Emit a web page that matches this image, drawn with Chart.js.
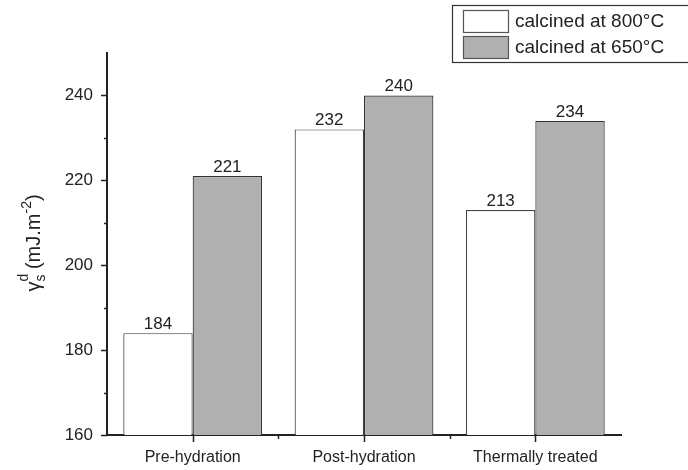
<!DOCTYPE html>
<html lang="en">
<head>
<meta charset="UTF-8">
<title>Surface energy bars</title>
<script src="https://cdn.jsdelivr.net/npm/chart.js"></script>
<style>
  html, body { margin: 0; padding: 0; background: #fff; }
  #wrap { width: 688px; height: 470px; position: relative; }
</style>
</head>
<body>
<div id="wrap"><canvas id="chart"></canvas></div>
<script>
// data
const categories = ['Pre-hydration', 'Post-hydration', 'Thermally treated'];
const series800 = [184, 232, 213];
const series650 = [221, 240, 234];
const seriesNames = ['calcined at 800°C', 'calcined at 650°C'];
const yTicks = [160, 180, 200, 220, 240];

const FONT = '"Liberation Sans", Arial, sans-serif';

// value labels, extra ticks, axis title and boxed legend
const decor = {
  id: 'decor',
  afterDraw(chart) {
    const ctx = chart.ctx;
    const x = chart.scales.x, y = chart.scales.y;
    const area = chart.chartArea;
    ctx.save();

    // numbers above bars
    ctx.fillStyle = '#222';
    ctx.font = '17px ' + FONT;
    ctx.textAlign = 'center';
    ctx.textBaseline = 'alphabetic';
    chart.data.datasets.forEach((ds, i) => {
      chart.getDatasetMeta(i).data.forEach((bar, j) => {
        ctx.fillText(String(ds.data[j]), bar.x, bar.y - 4);
      });
    });

    // axis ticks
    ctx.strokeStyle = '#222';
    ctx.lineWidth = 1.5;
    ctx.beginPath();
    yTicks.forEach(v => {
      const py = Math.round(y.getPixelForValue(v)) + 0.5;
      ctx.moveTo(area.left - 6, py); ctx.lineTo(area.left, py);
    });
    for (let v = 170; v < 250; v += 20) {
      const py = Math.round(y.getPixelForValue(v)) + 0.5;
      ctx.moveTo(area.left - 3, py); ctx.lineTo(area.left, py);
    }
    categories.forEach((c, i) => {
      const px = Math.round(x.getPixelForValue(i)) + 0.5;
      ctx.moveTo(px, area.bottom); ctx.lineTo(px, area.bottom + 7);
    });
    for (let i = 0; i < categories.length - 1; i++) {
      const px = Math.round((x.getPixelForValue(i) + x.getPixelForValue(i + 1)) / 2) + 0.5;
      ctx.moveTo(px, area.bottom); ctx.lineTo(px, area.bottom + 4);
    }
    ctx.stroke();

    // y title: gamma with sub s / sup d
    ctx.translate(40, 243);
    ctx.rotate(-Math.PI / 2);
    ctx.fillStyle = '#222';
    ctx.textAlign = 'left';
    ctx.textBaseline = 'alphabetic';
    const big = '20px ' + FONT, small = '14px ' + FONT;
    const parts = [['γ', big, 0], ['s', small, 5], ['d', small, -12], [' (mJ.m', big, 0], ['-2', small, -9], [')', big, 0]];
    let w = 0;
    parts.forEach(p => { ctx.font = p[1]; if (p[0] !== 'd') w += ctx.measureText(p[0]).width; });
    let cx = -w / 2, gx = 0;
    parts.forEach(p => {
      ctx.font = p[1];
      if (p[0] === 'd') { ctx.fillText(p[0], gx, p[2]); return; }
      if (p[0] === 's') gx = cx;
      ctx.fillText(p[0], cx, p[2]);
      cx += ctx.measureText(p[0]).width;
    });
    ctx.setTransform(1, 0, 0, 1, 0, 0);

    // legend box
    ctx.strokeStyle = '#333';
    ctx.lineWidth = 1.2;
    ctx.fillStyle = '#fff';
    ctx.fillRect(452.5, 5.5, 240, 57);
    ctx.strokeRect(452.5, 5.5, 240, 57);
    const fills = [chart.data.datasets[0].backgroundColor, chart.data.datasets[1].backgroundColor];
    ctx.font = '19px ' + FONT;
    ctx.textBaseline = 'middle';
    seriesNames.forEach((n, i) => {
      const ty = 10 + i * 26;
      ctx.fillStyle = fills[i];
      ctx.fillRect(463.5, ty + 0.5, 45, 22);
      ctx.strokeStyle = '#555';
      ctx.strokeRect(463.5, ty + 0.5, 45, 22);
      ctx.fillStyle = '#222';
      ctx.fillText(n, 515, ty + 12);
    });
    ctx.restore();
  }
};

new Chart(document.getElementById('chart'), {
  type: 'bar',
  data: {
    labels: categories,
    datasets: [
      { label: seriesNames[0], data: series800, backgroundColor: '#ffffff', borderColor: '#444', borderWidth: 1.2, borderSkipped: 'bottom' },
      { label: seriesNames[1], data: series650, backgroundColor: '#b0b0b0', borderColor: '#333', borderWidth: 1.2, borderSkipped: 'bottom' }
    ]
  },
  options: {
    responsive: true,
    maintainAspectRatio: false,
    animation: false,
    layout: { padding: { top: 53, right: 67, left: 0, bottom: 0 } },
    plugins: { legend: { display: false }, tooltip: { enabled: false } },
    datasets: { bar: { categoryPercentage: 0.81, barPercentage: 1.0 } },
    scales: {
      x: {
        grid: { display: false, drawTicks: false },
        border: { display: true, color: '#222', width: 2 },
        ticks: { color: '#222', font: { family: FONT, size: 16 }, padding: 13, maxRotation: 0 },
        afterFit(s) { s.height = 35; }
      },
      y: {
        min: 160, max: 250,
        grid: { display: false, drawTicks: false },
        border: { display: true, color: '#222', width: 2 },
        ticks: { stepSize: 20, color: '#222', font: { family: FONT, size: 17 }, padding: 14 },
        afterBuildTicks(s) { s.ticks = yTicks.map(v => ({ value: v })); },
        afterFit(s) { s.width = 107; }
      }
    }
  },
  plugins: [decor]
});
</script>
</body>
</html>
